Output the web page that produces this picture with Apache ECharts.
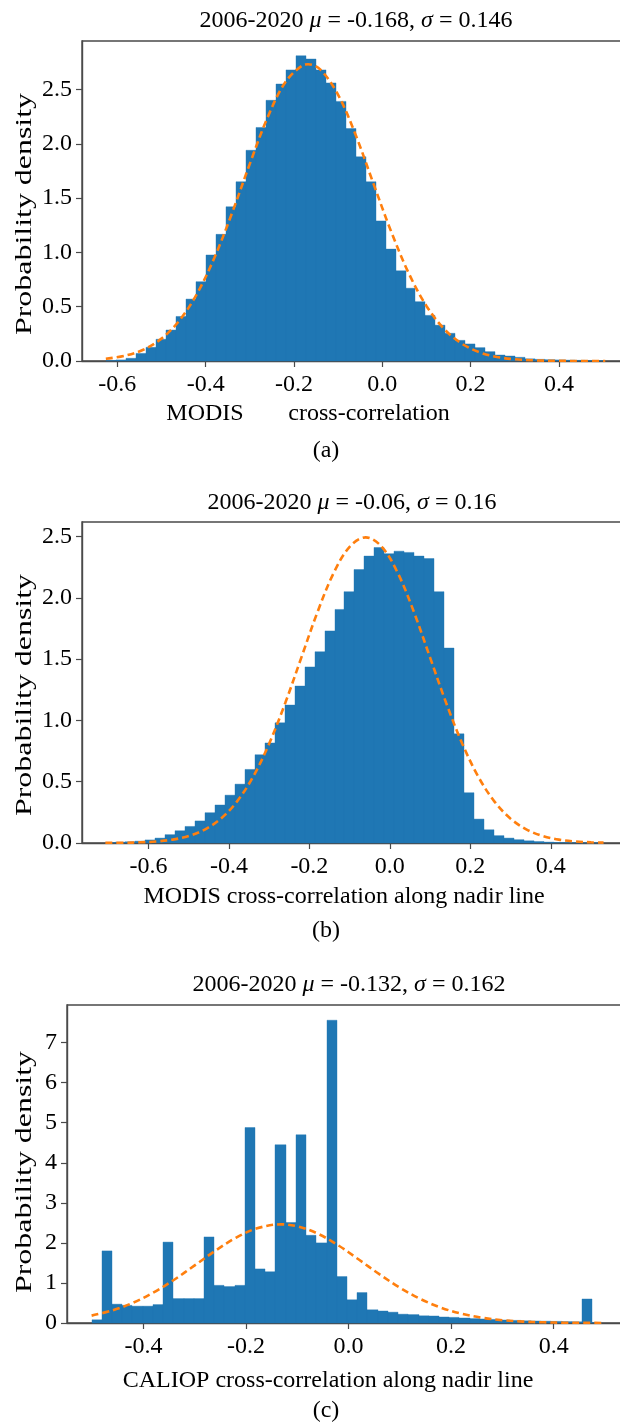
<!DOCTYPE html>
<html>
<head>
<meta charset="utf-8">
<script src="https://cdn.jsdelivr.net/npm/echarts@6/dist/echarts.min.js"></script>
<style>
html,body{margin:0;padding:0;background:#fff;}
#chart{width:620px;height:1424px;}
</style>
</head>
<body>
<div id="chart"></div>
<script>
// ---------- data ----------
// Panel (a): MODIS cross-correlation, 50 bins over [binLoA, binHiA]
const binLoA = -0.626, binHiA = 0.505;
const densA = [0.005,0.01,0.025,0.07,0.126,0.2,0.285,0.41,0.57,0.73,
  0.976,1.166,1.42,1.65,1.94,2.15,2.40,2.55,2.68,2.81,
  2.78,2.68,2.56,2.39,2.14,1.88,1.65,1.29,1.03,0.83,
  0.67,0.546,0.42,0.33,0.255,0.19,0.157,0.123,0.086,0.055,
  0.046,0.034,0.02,0.015,0.012,0.01,0.008,0.006,0.005,0.004];
const fitXA = [-0.626,-0.58,-0.54,-0.50,-0.46,-0.42,-0.38,-0.34,-0.30,-0.26,-0.22,-0.18,-0.168,-0.14,-0.10,-0.06,-0.02,0.02,0.06,0.10,0.14,0.18,0.22,0.26,0.30,0.35,0.40,0.45,0.505];
const fitYA = [0.020,0.051,0.106,0.206,0.370,0.616,0.952,1.365,1.815,2.240,2.564,2.723,2.732,2.682,2.451,2.078,1.633,1.193,0.807,0.507,0.295,0.160,0.080,0.037,0.016,0.005,0.0014,0.0003,0.0001];

// Panel (b): MODIS cross-correlation along nadir line
const binLoB = -0.707, binHiB = 0.531;
const densB = [0.004,0.006,0.01,0.015,0.025,0.04,0.068,0.10,0.135,0.18,
  0.247,0.31,0.39,0.48,0.60,0.72,0.816,0.98,1.125,1.28,
  1.436,1.56,1.73,1.905,2.05,2.23,2.34,2.41,2.36,2.38,
  2.37,2.34,2.32,2.05,1.59,0.89,0.41,0.195,0.108,0.06,
  0.04,0.027,0.018,0.012,0.007,0.004,0.003,0.002,0.001,0.001];
const fitXB = [-0.707,-0.66,-0.62,-0.58,-0.54,-0.50,-0.46,-0.42,-0.38,-0.34,-0.30,-0.26,-0.22,-0.18,-0.14,-0.10,-0.06,-0.02,0.02,0.06,0.10,0.14,0.18,0.22,0.26,0.30,0.34,0.38,0.42,0.46,0.50,0.531];
const fitYB = [0.0007,0.0022,0.0055,0.0127,0.0277,0.0568,0.1095,0.1984,0.3374,0.5393,0.8095,1.1413,1.512,1.882,2.200,2.416,2.493,2.416,2.200,1.882,1.512,1.1413,0.8095,0.5393,0.3374,0.1984,0.1095,0.0568,0.0277,0.0127,0.0055,0.0027];

// Panel (c): CALIOP cross-correlation along nadir line
const binLoC = -0.501, binHiC = 0.495;
const densC = [0.08,1.8,0.47,0.44,0.42,0.42,0.46,2.02,0.61,0.61,
  0.61,2.15,0.94,0.91,0.94,4.88,1.35,1.28,4.45,2.51,
  4.70,2.19,2.0,7.56,1.16,0.58,0.76,0.33,0.30,0.27,
  0.22,0.21,0.18,0.175,0.15,0.14,0.125,0.11,0.10,0.09,
  0.075,0.065,0.055,0.05,0.045,0.04,0.035,0.03,0.6,0.01];
const fitXC = [-0.501,-0.46,-0.42,-0.38,-0.34,-0.30,-0.26,-0.22,-0.18,-0.132,-0.10,-0.06,-0.02,0.02,0.06,0.10,0.14,0.18,0.22,0.26,0.30,0.34,0.38,0.42,0.46,0.495];
const fitYC = [0.184,0.317,0.507,0.763,1.080,1.438,1.803,2.125,2.357,2.463,2.415,2.231,1.939,1.585,1.220,0.883,0.601,0.385,0.232,0.132,0.070,0.035,0.017,0.0074,0.0031,0.0014];

// axes ticks and limits
const xTicksAB = [-0.6,-0.4,-0.2,0.0,0.2,0.4];
const xTicksC = [-0.4,-0.2,0.0,0.2,0.4];
const yTicksAB = [0,0.5,1.0,1.5,2.0,2.5];
const yTicksC = [0,1,2,3,4,5,6,7];
const xLimA = [-0.680, 0.561], yMaxA = 2.946;
const xLimB = [-0.765, 0.593], yMaxB = 2.618;
const xLimC = [-0.549, 0.543], yMaxC = 7.94;

// texts
const titles = [
  ['2006-2020 ', 'μ', ' = -0.168, ', 'σ', ' = 0.146'],
  ['2006-2020 ', 'μ', ' = -0.06, ', 'σ', ' = 0.16'],
  ['2006-2020 ', 'μ', ' = -0.132, ', 'σ', ' = 0.162']
];
const yName = 'Probability density';
const xNames = ['MODIS', 'cross-correlation', 'MODIS cross-correlation along nadir line', 'CALIOP cross-correlation along nadir line'];
const captions = ['(a)', '(b)', '(c)'];

// ---------- build ----------
const FONT = "'Liberation Serif','Times New Roman',serif";
const BLUE = '#1f77b4', ORANGE = '#ff7f0e', SPINE = '#4a4a4a';

function histData(lo, hi, dens) {
  const w = (hi - lo) / dens.length;
  return dens.map((d, i) => [lo + i * w, lo + (i + 1) * w, d]);
}
function pairs(xs, ys) { return xs.map((x, i) => [x, ys[i]]); }

// plot areas extend past the right edge of the page (the reference is cropped there)
const grids = [
  {left: 82, top: 41, width: 548, height: 320},
  {left: 82, top: 522, width: 546.5, height: 321},
  {left: 67, top: 1005, width: 560, height: 318}
].map(g => Object.assign({show: true, borderColor: SPINE, borderWidth: 1.4, backgroundColor: '#fff',
  containLabel: false, outerBoundsMode: 'none'}, g));

function xAxis(i, lim, ticks) {
  return {
    type: 'value', gridIndex: i, min: lim[0], max: lim[1],
    splitLine: {show: false},
    axisLine: {show: true, onZero: false, lineStyle: {color: SPINE, width: 1.4}},
    axisTick: {show: true, length: 6, customValues: ticks, lineStyle: {color: SPINE, width: 1.2}},
    axisLabel: {customValues: ticks, margin: 12, color: '#000', fontFamily: FONT, fontSize: 24,
      formatter: v => v.toFixed(1)}
  };
}
function yAxis(i, max, ticks, dec) {
  return {
    type: 'value', gridIndex: i, min: 0, max: max,
    splitLine: {show: false},
    axisLine: {show: true, onZero: false, lineStyle: {color: SPINE, width: 1.4}},
    axisTick: {show: true, length: 6, customValues: ticks, lineStyle: {color: SPINE, width: 1.2}},
    axisLabel: {customValues: ticks, margin: 10, color: '#000', fontFamily: FONT, fontSize: 24,
      formatter: v => v.toFixed(dec)}
  };
}

function histSeries(i, data) {
  return {
    type: 'custom', xAxisIndex: i, yAxisIndex: i, data: data,
    encode: {x: [0, 1], y: 2}, z: 2,
    renderItem: function (params, api) {
      const p0 = api.coord([api.value(0), 0]);
      const p1 = api.coord([api.value(1), api.value(2)]);
      const xa = Math.round(p0[0]), xb = Math.round(p1[0]);
      return {type: 'rect', shape: {x: xa, y: p1[1], width: xb - xa, height: p0[1] - p1[1]},
        style: {fill: BLUE, stroke: BLUE, lineWidth: 0.4}};
    }
  };
}
function fitSeries(i, data) {
  return {
    type: 'line', xAxisIndex: i, yAxisIndex: i, data: data, z: 5,
    showSymbol: false, smooth: 0.35, silent: true,
    lineStyle: {color: ORANGE, width: 2.6, type: [7, 4]}
  };
}

function titleText(parts, x, y) {
  return {
    type: 'text', x: x, y: y, z: 100,
    style: {
      text: `{n|${parts[0]}}{i|${parts[1]}}{n|${parts[2]}}{i|${parts[3]}}{n|${parts[4]}}`,
      rich: {
        n: {fontFamily: FONT, fontSize: 24, fill: '#000', color: '#000'},
        i: {fontFamily: FONT, fontSize: 24, fontStyle: 'italic', fill: '#000', color: '#000'}
      },
      align: 'center', verticalAlign: 'middle', textAlign: 'center', textVerticalAlign: 'middle', fill: '#000'
    }
  };
}
function plainText(t, x, y, extra) {
  return Object.assign({
    type: 'text', x: x, y: y, z: 100,
    style: {text: t, font: `24px ${FONT}`, fill: '#000',
      align: 'center', verticalAlign: 'middle', textAlign: 'center', textVerticalAlign: 'middle'}
  }, extra || {});
}
function yLabel(y) {
  return plainText(yName, 25, y, {rotation: Math.PI / 2, scaleX: 1.33});
}

const option = {
  animation: false,
  backgroundColor: '#fff',
  grid: grids,
  xAxis: [xAxis(0, xLimA, xTicksAB), xAxis(1, xLimB, xTicksAB), xAxis(2, xLimC, xTicksC)],
  yAxis: [yAxis(0, yMaxA, yTicksAB, 1), yAxis(1, yMaxB, yTicksAB, 1), yAxis(2, yMaxC, yTicksC, 0)],
  series: [
    histSeries(0, histData(binLoA, binHiA, densA)),
    fitSeries(0, pairs(fitXA, fitYA)),
    histSeries(1, histData(binLoB, binHiB, densB)),
    fitSeries(1, pairs(fitXB, fitYB)),
    histSeries(2, histData(binLoC, binHiC, densC)),
    fitSeries(2, pairs(fitXC, fitYC))
  ],
  graphic: [
    titleText(titles[0], 356, 21),
    titleText(titles[1], 352, 503),
    titleText(titles[2], 349, 985),
    yLabel(214), yLabel(695), yLabel(1172),
    plainText(xNames[0], 205, 414),
    plainText(xNames[1], 369, 414),
    plainText(xNames[2], 344, 897),
    plainText(xNames[3], 328, 1381),
    plainText(captions[0], 326, 451),
    plainText(captions[1], 326, 931),
    plainText(captions[2], 326, 1411)
  ]
};

const chart = echarts.init(document.getElementById('chart'), null, {renderer: 'canvas'});
chart.setOption(option);
</script>
</body>
</html>
